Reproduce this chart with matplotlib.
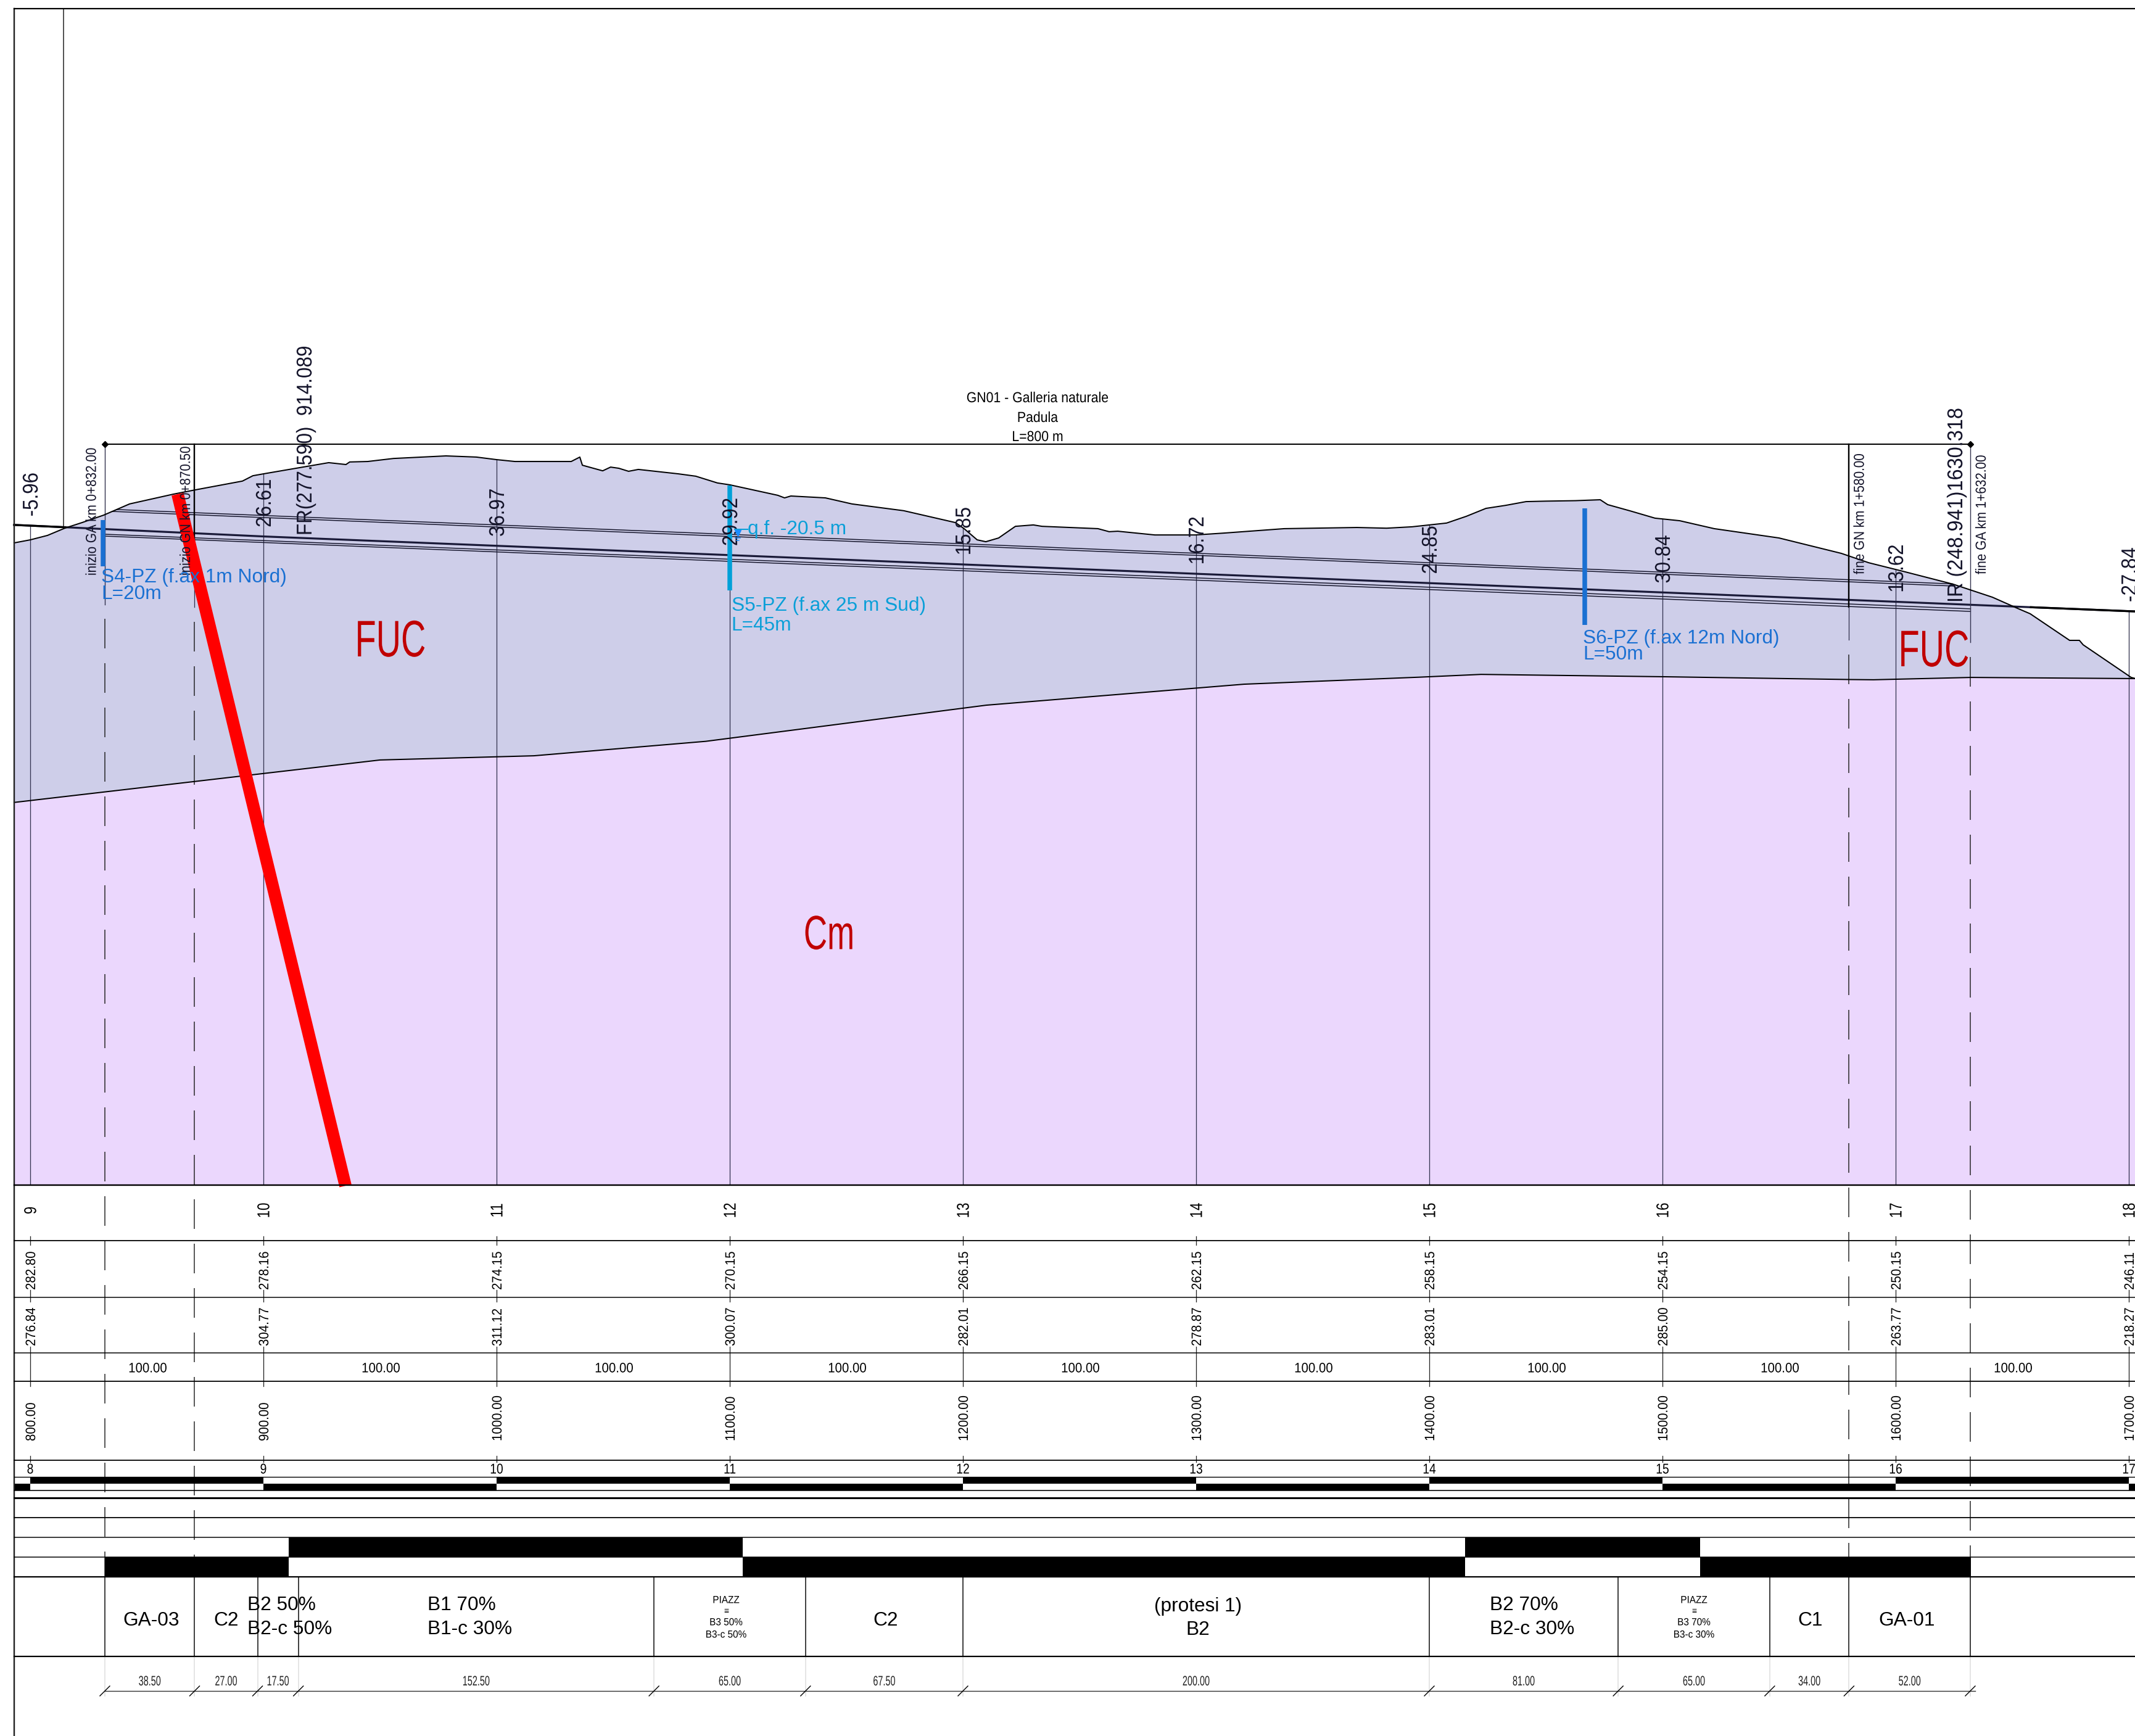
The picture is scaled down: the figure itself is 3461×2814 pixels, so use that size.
#!/usr/bin/env python3
"""Longitudinal geological profile of the GN01 Padula tunnel, with the data table underneath."""
import numpy as np
import matplotlib
matplotlib.use("Agg")
import matplotlib.pyplot as plt
from matplotlib.patheffects import AbstractPathEffect
from matplotlib.transforms import Affine2D

plt.rcParams["font.family"] = ["Liberation Sans", "DejaVu Sans"]
plt.rcParams["lines.scale_dashes"] = False

# --- section data (chainage m, elevation m) ---
terrain_ch = [793.1, 800, 807.4, 814.8, 822.2, 831.5, 842.6, 861.4, 870.6, 891, 895.5, 900, 916.9, 928, 935.4,
              937, 944.7, 955.8, 978.3, 991.3, 1000, 1007.9, 1032, 1035.7, 1036.8, 1045.5, 1048.9, 1052.4,
              1056.6, 1060.8, 1078, 1085.4, 1094.7, 1100, 1120.6, 1123.5, 1126.2, 1141, 1152.4, 1174.6, 1196.8,
              1200.5, 1206.1, 1209.8, 1215.3, 1222.5, 1230.2, 1233.9, 1257.9, 1262.7, 1266.4, 1282.3, 1299.7,
              1311.9, 1337.8, 1369, 1381.7, 1392.6, 1407.4, 1415.9, 1424.3, 1432.8, 1441.5, 1450, 1462.7, 1473.3,
              1476.5, 1486.2, 1496.8, 1507.4, 1522.2, 1550, 1576.7, 1588.4, 1603.2, 1624.6, 1641.5, 1652.1,
              1657.7, 1674.6, 1678.8, 1680.4, 1701, 1702.9]
terrain_el = [275.4, 276.7, 278.6, 281.7, 284.1, 287.3, 292.1, 296.3, 298.1, 301.9, 304.2, 305.0, 307.9, 309.8, 309.0,
              310.1, 310.3, 311.6, 312.7, 312.2, 311.1, 310.3, 310.3, 312.2, 308.7, 306.3, 307.9, 307.4,
              306.1, 306.9, 305.0, 304.0, 301.1, 300.3, 295.8, 294.7, 295.5, 294.7, 292.1, 289.2, 284.1,
              281.5, 276.7, 275.9, 277.5, 282.5, 283.1, 282.5, 281.5, 280.2, 280.4, 278.8, 278.8,
              279.6, 281.5, 282.0, 281.7, 282.3, 283.9, 286.8, 290.2, 291.5, 293.1, 293.3, 293.5, 293.9,
              291.8, 289.1, 286.0, 284.9, 281.5, 277.5, 270.9, 266.9, 263.2, 257.7, 252.1, 247.4,
              245.0, 233.6, 233.6, 231.7, 217.7, 217.2]
contact_ch = [793.1, 950, 1016, 1089.7, 1210, 1320.6, 1395.5, 1422.2, 1500.3, 1580, 1590.5, 1632.3, 1702.9]
contact_el = [164.1, 182.3, 184.1, 190.3, 205.8, 214.8, 217.8, 219.0, 218.0, 216.8, 216.7, 217.7, 217.2]

station_ch = [800, 900, 1000, 1100, 1200, 1300, 1400, 1500, 1600, 1700]
station_no = ["9", "10", "11", "12", "13", "14", "15", "16", "17", "18"]
grade_el = [282.80, 278.16, 274.15, 270.15, 266.15, 262.15, 258.15, 254.15, 250.15, 246.11]
ground_el = [276.84, 304.77, 311.12, 300.07, 282.01, 278.87, 283.01, 285.00, 263.77, 218.27]
diff_lbl = ["-5.96", "26.61", "36.97", "29.92", "15.85", "16.72", "24.85", "30.84", "13.62", "-27.84"]
km_lbl = ["8", "9", "10", "11", "12", "13", "14", "15", "16", "17"]

grade_line_ch = [793.1] + station_ch + [1702.9]
grade_line_el = [283.1] + grade_el + [246.0]

crown_a_ch, crown_a_el = [837, 1624.6], [289.7, 257.8]
crown_b_ch, crown_b_el = [834.9, 1624.6], [288.9, 256.9]
invert_a_ch, invert_a_el = [832, 1632.3], [279.1, 247.1]
invert_b_ch, invert_b_el = [832, 1632.3], [278.3, 246.0]

fault_ch, fault_el = [863.2, 935.2], [296.3, -0.3]

bore_ch = [831.2, 1100, 1466.7]
bore_top = [285.3, 300.0, 290.1]
bore_len = [20, 45, 50]
bore_col = ["#1a70d2", "#00a0d8", "#1a70d2"]

# --- support sections ---
sect_start = 832.0
sect_len = [38.5, 27.0, 17.5, 152.5, 65.0, 67.5, 200.0, 81.0, 65.0, 34.0, 52.0]
sect_lbl = ["38.50", "27.00", "17.50", "152.50", "65.00", "67.50", "200.00", "81.00", "65.00", "34.00", "52.00"]

lower_bars = [(832, 910.8), (1105.6, 1415.3), (1516.1, 1632.3)]
upper_bars = [(910.8, 1105.6), (1415.3, 1516.1)]


def X(px):
    return 900 + (px - 427) / 3.78


def Y(py):
    return (1921 - py) / 3.78


PT = 0.72  # pixels to points at dpi 100
BLACK = "#000000"
LINE = "#33334f"
INK = "#14142a"
RED = "#c00000"
BLUE = "#1a70d2"
CYAN = "#0a9fd8"

fig = plt.figure(figsize=(34.62, 28.14), dpi=100)
ax = fig.add_axes([0, 0, 1, 1])
ax.set_xlim(X(0), X(3462))
ax.set_ylim(Y(2814), Y(0))
ax.axis("off")


class Squeeze(AbstractPathEffect):
    # the drawing's lettering is condensed along the writing direction
    def __init__(self, anchor, scale, vertical):
        super().__init__()
        self.anchor, self.scale, self.vertical = anchor, scale, vertical

    def draw_path(self, renderer, gc, tpath, affine, rgbFace=None):
        ax_, ay_ = self.anchor
        sx, sy = (1, self.scale) if self.vertical else (self.scale, 1)
        t = Affine2D().translate(-ax_, -ay_).scale(sx, sy).translate(ax_, ay_)
        renderer.draw_path(gc, tpath, affine + t, rgbFace)


def label(x, y, s, size, scale=1.0, rot=0, ha="center", va="center", color=BLACK, **kw):
    if rot == 90:
        x = x + 2.5 / 3.78  # bbox centring sits the digits left of the station line
    t = ax.text(x, y, s, fontsize=size, rotation=rot, ha=ha, va=va, color=color, zorder=8, **kw)
    if scale != 1.0:
        t.set_path_effects([Squeeze(ax.transData.transform((x, y)), scale, rot == 90)])
    return t


x_l, x_r = X(23), X(3462)

# geology fills
ax.fill(terrain_ch + contact_ch[::-1], terrain_el + contact_el[::-1], color="#cecee9", lw=0, zorder=1)
ax.fill(contact_ch + [contact_ch[-1], contact_ch[0]], contact_el + [0, 0], color="#ebd7fd", lw=0, zorder=1)

# station verticals in the section
top_el = np.maximum(np.interp(station_ch, terrain_ch, terrain_el), grade_el)
ax.vlines(station_ch, 0, top_el, color=LINE, lw=1.3 * PT, zorder=2)

# tunnel lines and grade
for xs, ys in [(crown_a_ch, crown_a_el), (crown_b_ch, crown_b_el), (invert_a_ch, invert_a_el), (invert_b_ch, invert_b_el)]:
    ax.plot(xs, ys, color=INK, lw=1.5 * PT, zorder=3, solid_capstyle="butt")
ax.plot(grade_line_ch, grade_line_el, color="#1a1a38", lw=3.2 * PT, zorder=3)
for a, b in [(793.1, 815.0), (1658.0, 1702.9)]:
    ax.plot([a, b], np.interp([a, b], grade_line_ch, grade_line_el), color=BLACK, lw=3.2 * PT, zorder=3)

# terrain and contact
ax.plot(terrain_ch, terrain_el, color=BLACK, lw=2 * PT, zorder=4)
ax.plot(contact_ch, contact_el, color=BLACK, lw=2 * PT, zorder=4)

# fault
ax.plot(fault_ch, fault_el, color="#ff0000", lw=20 * PT, solid_capstyle="butt", zorder=5)

# boreholes
for c, t, l, col in zip(bore_ch, bore_top, bore_len, bore_col):
    ax.plot([c, c], [t, t - l], color=col, lw=7.5 * PT, solid_capstyle="butt", zorder=6)

# frame
ax.plot([x_l, x_l], [Y(13.5), Y(2814)], color="#222222", lw=2.4 * PT, zorder=7)
ax.plot([x_l, x_r], [Y(13.5), Y(13.5)], color=BLACK, lw=2.2 * PT, zorder=7)
ax.plot([X(102.5), X(102.5)], [Y(13.5), np.interp(X(102.5), grade_line_ch, grade_line_el)], color="#555555", lw=2 * PT, zorder=2)

# tunnel extents
ga_in, gn_in, gn_out, ga_out = 832.0, 870.5, 1580.0, 1632.0
ax.plot([ga_in, ga_out], [Y(720), Y(720)], color=BLACK, lw=2 * PT, zorder=4)
ax.plot([ga_in, ga_out], [Y(720), Y(720)], ls="none", marker="D", ms=5, color=BLACK, zorder=4)
ax.plot([ga_in, ga_in], [Y(720), Y(980)], color=LINE, lw=1.4 * PT, zorder=3)
ax.plot([ga_out, ga_out], [Y(720), Y(1041)], color=LINE, lw=1.4 * PT, zorder=3)
ax.plot([gn_in, gn_in], [Y(720), Y(911)], color=BLACK, lw=2.4 * PT, zorder=3)
ax.plot([gn_in, gn_in], [Y(911), Y(984)], color=LINE, lw=1.3 * PT, zorder=3)
ax.plot([gn_out, gn_out], [Y(720), Y(984)], color=BLACK, lw=2.4 * PT, zorder=3)
ax.plot([gn_out, gn_out], [Y(984), Y(1037)], color=LINE, lw=1.3 * PT, zorder=3)
dash = (0, (48 * PT, 24 * PT))
for c, start in [(ga_in, 1003), (gn_in, 1008), (gn_out, 1061), (ga_out, 1065)]:
    ax.plot([c, c], [Y(start), Y(2556)], color="#222222", lw=1.5 * PT, ls=dash, zorder=2)

# labels above the section
for c, g, s in zip(station_ch, grade_el, diff_lbl):
    label(c, g + 3.9, s, 25, 0.9, rot=90, va="bottom", color=INK)
label(X(493), Y(868), "FR(277.590)  914.089", 25, 0.905, rot=90, va="bottom", color=INK)
label(X(3169), Y(977), "IR (248.941)1630.318", 25, 0.935, rot=90, va="bottom", color=INK)
for px, bottom, s in [(147, 933, "inizio GA km 0+832.00"), (299.6, 933, "inizio GN km 0+870.50"),
                      (3013, 931, "fine GN km 1+580.00"), (3210.5, 931, "fine GA km 1+632.00")]:
    label(X(px), Y(bottom), s, 17, 0.875, rot=90, va="bottom", color=INK)
for py, s in [(652, "GN01 - Galleria naturale"), (684, "Padula"), (715, "L=800 m")]:
    label(X(1682), Y(py), s, 17, 0.9, va="baseline")

# borehole notes
for px, py1, py2, a, b, col in [(164, 944, 971, "S4-PZ (f.ax 1m Nord)", "L=20m", BLUE),
                                (1185.6, 990, 1021.7, "S5-PZ (f.ax 25 m Sud)", "L=45m", CYAN),
                                (2566, 1042.6, 1069, "S6-PZ (f.ax 12m Nord)", "L=50m", BLUE)]:
    label(X(px), Y(py1), a, 22.8, ha="left", va="baseline", color=col)
    label(X(px), Y(py2), b, 22.8, ha="left", va="baseline", color=col)
label(X(1212), Y(866), "q.f. -20.5 m", 22.8, ha="left", va="baseline", color=CYAN)
ax.plot([X(1191), X(1212)], [Y(858), Y(858)], color=CYAN, lw=2 * PT, zorder=8)
ax.plot([X(1196)], [Y(864)], ls="none", marker="v", ms=7, color="#1a8cff", zorder=8)
ax.plot([X(1192), X(1200)], [Y(872), Y(872)], color="#1a8cff", lw=1.5 * PT, zorder=8)
ax.plot([X(1194), X(1198)], [Y(876), Y(876)], color="#1a8cff", lw=1.5 * PT, zorder=8)

# formation names
label(X(633), Y(1042), "FUC", 60, 0.67, color=RED)
label(X(3135), Y(1058), "FUC", 60, 0.67, color=RED)
label(X(1344), Y(1518), "Cm", 56, 0.68, color=RED)

# table rows
for py, w in [(1921, 2.4), (2011, 1.8), (2103, 1.5), (2193, 1.5), (2239, 1.8), (2367, 1.8), (2394, 1.4), (2416, 1.6),
              (2428, 3), (2460, 1.8), (2492, 1.5), (2524, 1.5), (2556, 2.2), (2685, 2.2)]:
    ax.plot([x_l, x_r], [Y(py), Y(py)], color=BLACK, lw=w * PT, zorder=7)

# station columns of the table
for c, no, g, t, km in zip(station_ch, station_no, grade_el, ground_el, km_lbl):
    label(c, Y(1962), no, 20, 0.8, rot=90)
    label(c, Y(2091), f"{g:.2f}", 16, 0.92, rot=90, va="bottom")
    label(c, Y(2182), f"{t:.2f}", 16, 0.92, rot=90, va="bottom")
    label(c, Y(2336), f"{c:.2f}", 16, 0.92, rot=90, va="bottom")
    label(c, Y(2382), km, 16.5, 0.84)
    for a, b in [(2004, 2018), (2091, 2110), (2183, 2247), (2360, 2370)]:
        ax.plot([c, c], [Y(a), Y(b)], color="#222222", lw=1.3 * PT, zorder=6)

# partial distances
for a, b in zip(station_ch[:-1], station_ch[1:]):
    label((a + b) / 2 + 1.5 / 3.78, Y(2219), f"{b - a:.2f}", 16, 0.92)

# chequered scale bar
edges = [x_l] + station_ch + [x_r]
for i, (a, b) in enumerate(zip(edges[:-1], edges[1:])):
    py_a, py_b = (2405, 2416) if i % 2 == 0 else (2394, 2405)
    ax.fill([a, b, b, a], [Y(py_a), Y(py_a), Y(py_b), Y(py_b)], color=BLACK, lw=0, zorder=6)

# black bars above the section row
for a, b in lower_bars:
    ax.fill([a, b, b, a], [Y(2524), Y(2524), Y(2556), Y(2556)], color=BLACK, lw=0, zorder=6)
for a, b in upper_bars:
    ax.fill([a, b, b, a], [Y(2492), Y(2492), Y(2524), Y(2524)], color=BLACK, lw=0, zorder=6)

# section dividers and dimension line
cuts = sect_start + np.concatenate([[0], np.cumsum(sect_len)])
ax.vlines(cuts, Y(2685), Y(2556), color="#222222", lw=1.7 * PT, zorder=6)
ax.vlines(cuts, Y(2750), Y(2685), color="#dddddd", lw=1.5 * PT, zorder=3)
ax.plot([cuts[0], cuts[-1] + 2], [Y(2741), Y(2741)], color="#333333", lw=1.4 * PT, zorder=6)
for c in cuts:
    ax.plot([c - 8 / 3.78, c + 8 / 3.78], [Y(2749), Y(2733)], color=BLACK, lw=1.4 * PT, zorder=6)
for a, b, s in zip(cuts[:-1], cuts[1:], sect_lbl):
    label((a + b) / 2, Y(2726.5), s, 16, 0.65, color="#222222")

# section names
for px, s in [(245, "GA-03"), (366.6, "C2"), (1436, "C2"), (2934.5, "C1"), (3091, "GA-01")]:
    label(X(px), Y(2627), s, 22.8)
for px, a, b in [(401, "B2 50%", "B2-c 50%"), (692.6, "B1 70%", "B1-c 30%"), (2415, "B2 70%", "B2-c 30%")]:
    label(X(px), Y(2602.5), a, 22.8, ha="left")
    label(X(px), Y(2641), b, 22.8, ha="left")
label(X(1941.6), Y(2604), "(protesi 1)", 22.8)
label(X(1941.6), Y(2642), "B2", 22.8)
for px, a, b in [(1177, "B3 50%", "B3-c 50%"), (2746, "B3 70%", "B3-c 30%")]:
    for py, s in [(2594, "PIAZZ"), (2630, a), (2650, b)]:
        label(X(px), Y(py), s, 12, 0.92)
    label(X(px), Y(2612), "≡", 10)

fig.savefig("out.png", dpi=100, facecolor="white")
